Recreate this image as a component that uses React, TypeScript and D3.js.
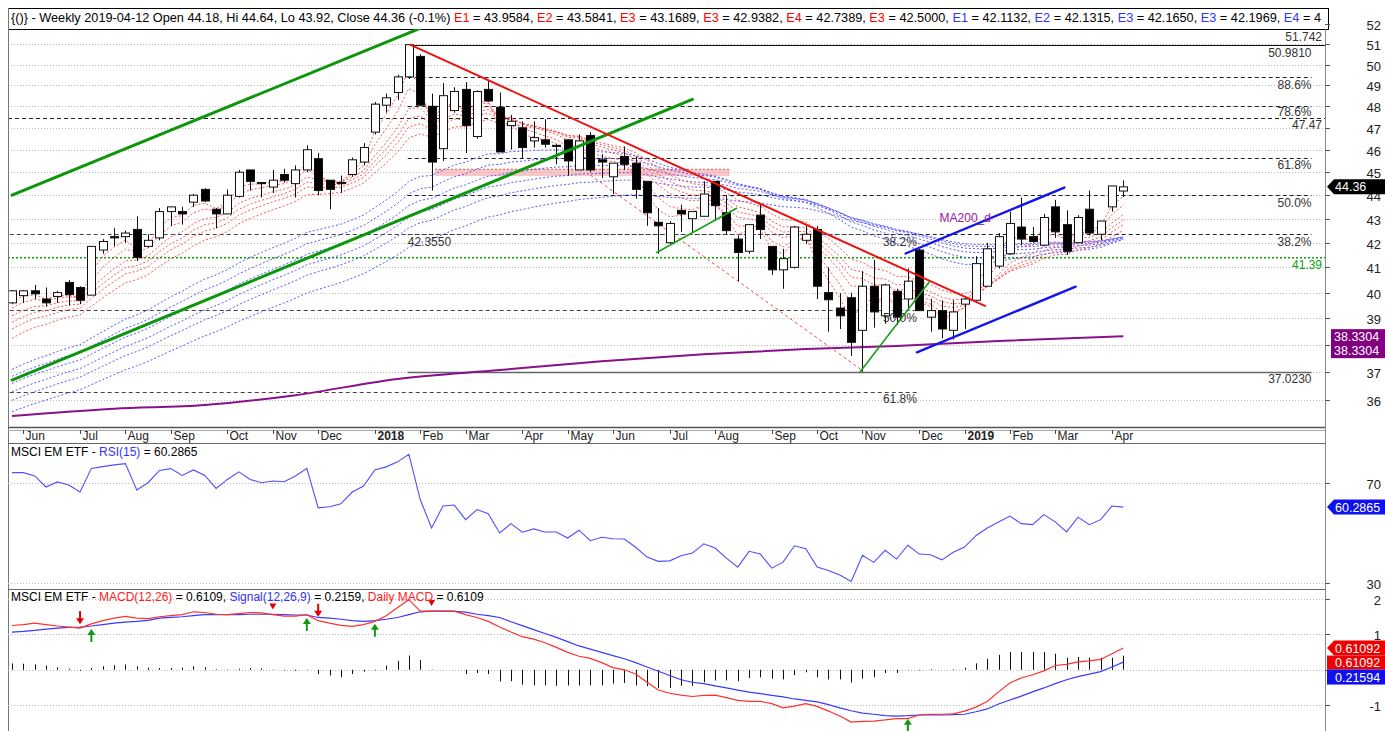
import React, { useEffect, useRef } from "react";
import * as d3 from "d3";

// ---------------- data (weekly bars, first bar = week ending 2017-05-26) ----------------
const startYear = 2017, startMonth = 4, startDay = 26;

const opens = [
  39.6, 39.88, 40.07, 39.75, 39.85, 40.4, 40.2, 39.9, 41.7, 42.25,
  42.25, 42.55, 41.85, 42.2, 43.3, 43.3, 43.7, 44.25, 43.4, 43.2,
  43.95, 45.1, 44.55, 44.35, 44.9, 44.5, 45.1, 45.6, 44.65, 44.55,
  44.9, 45.45, 46.8, 48.05, 48.65, 49.4, 50.4, 48.0, 46.05, 47.8,
  48.8, 46.6, 48.8, 47.95, 47.1, 47.0, 46.4, 46.45, 46.2, 46.45,
  45.1, 46.65, 45.55, 44.8, 45.7, 45.4, 44.6, 42.85, 42.0, 43.35,
  43.0, 43.1, 44.6, 43.25, 42.15, 41.65, 43.15, 41.85, 40.9, 41.0,
  42.1, 42.55, 40.0, 39.4, 39.8, 38.55, 40.25, 39.1, 40.05, 39.75,
  41.7, 39.05, 39.3, 38.55, 39.55, 39.7, 40.25, 41.05, 41.55, 42.65,
  42.25, 41.9, 43.5, 42.75, 42.0, 43.4, 42.35, 43.5, 44.18,
];
const highs = [
  40.1, 40.1, 40.3, 40.2, 40.07, 40.5, 40.25, 41.85, 42.15, 42.6,
  42.5, 43.1, 42.35, 43.45, 43.5, 43.5, 44.05, 44.3, 43.45, 44.25,
  45.1, 45.1, 44.55, 45.1, 45.15, 45.3, 46.2, 45.85, 44.65, 44.85,
  45.65, 46.3, 48.2, 48.6, 49.5, 50.98, 50.5, 48.6, 49.1, 48.9,
  49.15, 48.75, 49.2, 48.65, 47.6, 47.3, 47.3, 47.4, 46.25, 46.45,
  46.7, 46.8, 45.8, 45.4, 46.15, 45.7, 44.6, 43.45, 42.9, 43.6,
  43.3, 44.6, 44.6, 44.0, 42.3, 42.75, 43.6, 41.85, 41.75, 42.7,
  42.7, 42.7, 41.0, 39.98, 40.0, 40.85, 41.3, 40.35, 40.15, 40.95,
  41.75, 39.75, 39.7, 39.7, 39.85, 41.45, 42.0, 42.4, 43.3, 43.9,
  42.65, 43.2, 43.8, 43.35, 43.15, 44.2, 42.9, 44.4, 44.64,
];
const lows = [
  39.55, 39.6, 39.75, 39.45, 39.6, 39.5, 39.55, 39.9, 41.55, 41.85,
  42.0, 41.25, 41.8, 42.1, 42.7, 42.75, 43.5, 43.7, 42.6, 43.2,
  43.9, 44.2, 43.9, 44.1, 44.55, 43.9, 45.0, 44.0, 43.4, 44.1,
  44.8, 45.3, 46.7, 47.7, 48.3, 49.3, 48.0, 44.2, 45.5, 47.7,
  45.85, 46.5, 48.2, 45.9, 46.0, 45.6, 46.1, 46.1, 45.35, 44.85,
  45.1, 45.0, 44.75, 44.05, 45.1, 43.85, 42.7, 41.55, 41.95, 42.45,
  42.45, 43.1, 42.9, 42.35, 40.45, 41.55, 42.15, 40.7, 40.15, 40.95,
  41.95, 39.75, 38.5, 38.6, 37.6, 37.02, 38.65, 38.8, 38.75, 39.35,
  39.3, 38.5, 38.25, 38.2, 38.6, 39.7, 40.25, 40.95, 41.5, 41.9,
  42.0, 41.85, 42.2, 41.5, 42.0, 42.3, 42.1, 43.3, 43.92,
];
const closes = [
  40.07, 40.07, 39.95, 39.6, 40.0, 39.92, 39.7, 41.85, 42.05, 42.2,
  42.4, 41.4, 42.1, 43.3, 43.5, 43.2, 44.0, 43.75, 43.2, 44.0,
  45.0, 44.6, 44.5, 44.65, 44.65, 45.1, 46.0, 44.2, 44.25, 44.5,
  45.55, 46.1, 48.1, 48.4, 49.4, 50.98, 48.05, 45.45, 48.5, 48.7,
  47.1, 48.7, 48.25, 45.9, 47.3, 46.1, 46.55, 46.25, 46.15, 45.5,
  46.4, 45.1, 45.45, 45.4, 45.35, 44.25, 43.25, 42.7, 42.8, 43.2,
  43.3, 44.05, 43.55, 42.5, 41.6, 42.75, 42.55, 40.9, 41.35, 42.65,
  42.35, 40.25, 39.72, 39.1, 38.1, 40.25, 39.25, 40.3, 39.05, 40.45,
  39.3, 39.3, 38.6, 39.25, 39.75, 41.15, 41.75, 42.25, 42.8, 42.15,
  42.05, 43.05, 42.45, 41.65, 43.05, 42.4, 42.9, 44.4, 44.36,
];

const rsi15 = [
  74.0, 74.0, 72.7, 68.3, 70.3, 69.1, 66.3, 75.7, 76.4, 77.1,
  77.6, 67.1, 70.0, 74.9, 75.6, 72.9, 75.1, 72.9, 67.7, 71.3,
  74.3, 71.3, 70.0, 70.7, 70.4, 72.7, 75.7, 60.0, 60.4, 61.6,
  66.3, 68.7, 75.1, 76.3, 78.3, 81.3, 63.3, 52.0, 60.7, 61.1,
  55.3, 59.3, 57.7, 50.0, 53.7, 50.3, 51.6, 50.4, 50.4, 48.0,
  51.1, 46.9, 48.3, 47.7, 47.6, 44.3, 40.4, 38.7, 38.9, 40.9,
  42.0, 45.7, 44.0, 40.0, 36.4, 42.7, 41.6, 36.0, 38.4, 44.9,
  43.7, 36.4, 35.1, 33.3, 30.7, 41.1, 38.3, 43.1, 39.6, 45.1,
  41.6, 41.3, 39.3, 42.3, 44.4, 48.9, 52.0, 54.4, 56.7, 53.7,
  53.3, 57.3, 54.4, 50.4, 56.3, 53.3, 55.3, 60.7, 60.2865,
];

const macdLine = [
  1.245, 1.27, 1.31, 1.27, 1.23, 1.2, 1.17, 1.29, 1.38, 1.45,
  1.5, 1.45, 1.44, 1.49, 1.52, 1.55, 1.63, 1.61, 1.56, 1.55,
  1.58, 1.61, 1.6, 1.55, 1.51, 1.51, 1.55, 1.38, 1.31, 1.25,
  1.22, 1.27, 1.36, 1.52, 1.75, 1.97, 1.65, 1.65, 1.65, 1.65,
  1.55, 1.47, 1.36, 1.2, 1.06, 0.93, 0.86, 0.76, 0.63, 0.49,
  0.38, 0.32, 0.2, 0.06, 0.0, -0.12, -0.35, -0.57, -0.66, -0.71,
  -0.75, -0.72, -0.71, -0.78, -0.86, -0.89, -0.89, -0.95, -1.07, -1.02,
  -0.95, -1.03, -1.16, -1.3, -1.47, -1.45, -1.44, -1.41, -1.37, -1.37,
  -1.27, -1.25, -1.25, -1.24, -1.16, -1.05, -0.89, -0.62, -0.37, -0.23,
  -0.14, -0.03, 0.12, 0.15, 0.22, 0.25, 0.29, 0.45, 0.6109,
];
const signalLine = [
  1.06, 1.08, 1.11, 1.14, 1.17, 1.19, 1.2, 1.23, 1.27, 1.31,
  1.34, 1.36, 1.39, 1.45, 1.47, 1.49, 1.52, 1.55, 1.55, 1.55,
  1.55, 1.56, 1.56, 1.56, 1.55, 1.54, 1.54, 1.47, 1.45, 1.42,
  1.38, 1.36, 1.38, 1.42, 1.47, 1.55, 1.63, 1.65, 1.65, 1.64,
  1.62, 1.56, 1.52, 1.47, 1.35, 1.24, 1.13, 1.02, 0.91, 0.79,
  0.67, 0.58, 0.49, 0.4, 0.31, 0.2, 0.08, -0.04, -0.16, -0.28,
  -0.35, -0.39, -0.45, -0.51, -0.57, -0.63, -0.67, -0.72, -0.76, -0.82,
  -0.86, -0.9, -0.98, -1.07, -1.15, -1.22, -1.25, -1.29, -1.3, -1.29,
  -1.27, -1.26, -1.27, -1.26, -1.25, -1.18, -1.1, -0.96, -0.85, -0.74,
  -0.62, -0.51, -0.39, -0.28, -0.19, -0.12, -0.05, 0.08, 0.2159,
];
const macdHist = [
  0.18, 0.17, 0.15, 0.12, 0.07, 0.03, -0.03, 0.05, 0.1, 0.13,
  0.15, 0.1, 0.06, 0.05, 0.05, 0.06, 0.1, 0.07, 0.02, 0.01,
  0.03, 0.05, 0.04, 0.01, -0.02, -0.03, 0.01, -0.12, -0.16, -0.21,
  -0.12, -0.05, -0.02, 0.12, 0.25, 0.4, 0.27, 0.01, 0.0, 0.0,
  -0.12, -0.09, -0.12, -0.33, -0.32, -0.42, -0.44, -0.44, -0.45, -0.44,
  -0.44, -0.44, -0.44, -0.39, -0.37, -0.44, -0.46, -0.51, -0.51, -0.45,
  -0.45, -0.35, -0.3, -0.3, -0.32, -0.23, -0.21, -0.25, -0.27, -0.15,
  -0.07, -0.21, -0.27, -0.27, -0.36, -0.25, -0.21, -0.09, -0.09, -0.01,
  -0.02, 0.02, 0.0, 0.02, 0.06, 0.18, 0.31, 0.42, 0.5, 0.5,
  0.5, 0.5, 0.45, 0.34, 0.36, 0.34, 0.34, 0.34, 0.395,
];

// daily MA200 read at a few bars
const ma200Idx = [0, 9, 17, 25, 34, 43, 52, 61, 70, 78, 87, 98];
const ma200Val = [35.45, 35.7, 35.83, 36.18, 36.76, 37.08, 37.4, 37.66, 37.85, 37.96, 38.15, 38.3304];

// GMMA ribbons (period, starting value read at first bar)
const redPeriods = [3, 5, 8, 10, 12, 15];
const redSeeds = [39.65, 39.4, 39.1, 38.85, 38.6, 38.25];
const bluePeriods = [30, 35, 40, 45, 50, 60];
const blueSeeds = [37.1, 36.85, 36.6, 36.3, 36.0, 35.6];

const priceTicks = [36, 37, 38, 39, 40, 41, 42, 43, 44, 45, 46, 47, 48, 49, 50, 51, 52];
const priceTickLabels = [36, 37, 39, 40, 41, 42, 43, 44, 45, 46, 47, 48, 49, 50, 51, 52]; // 38 hidden by tag
const rsiTicks = [70, 30];
const macdTicks = [2, 1, -1];
const macdGrid = [2, 1, 0, -1];

// Fibonacci retracement 37.023 -> 50.981
const fibHigh = 50.981, fibLow = 37.023;
const fibRatios = [0.886, 0.786, 0.618, 0.5, 0.382];
const fibLabels = ["88.6%", "78.6%", "61.8%", "50.0%", "38.2%"];
const fibFromIdx = 34.9, fibToIdx = 114.6;
// second fib tool (left part)
const fib2Levels = [42.355, 39.32, 36.3];
const fib2Labels = ["38.2%", "50.0%", "61.8%"];
const fib2FromIdx = -0.2, fib2ToIdx = 79.8;

// drawn trend lines: [idx1, price1, idx2, price2]
const greenThick = [[0, 44.0, 37.5, 52.16], [0, 36.72, 60, 48.33]];
const redTrend = [[35.1, 50.98, 85.8, 39.48]];
const greenThin = [[56.85, 41.6, 63.9, 43.44], [74.8, 37.02, 80.9, 40.43]];
const blueChannel = [[78.8, 41.56, 92.8, 44.33], [79.8, 37.73, 93.8, 40.23]];
const redFan = [[51, 44.88, 75, 37.06]];
const pinkZone = [37.3, 63.3, 44.83, 45.13];

const macdDownArrows = [6, 27];
const macdSmallTri = [23, 37];
const macdUpArrows = [7, 26, 32, 79];

const headerParts: [string, string][] = [
  ["{()} - Weekly 2019-04-12 Open 44.18, Hi 44.64, Lo 43.92, Close 44.36 (-0.1%) ", "#000"],
  ["E1", "#ff0000"], [" = 43.9584, ", "#000"],
  ["E2", "#ff0000"], [" = 43.5841, ", "#000"],
  ["E3", "#ff0000"], [" = 43.1689, ", "#000"],
  ["E3", "#ff0000"], [" = 42.9382, ", "#000"],
  ["E4", "#ff0000"], [" = 42.7389, ", "#000"],
  ["E3", "#ff0000"], [" = 42.5000, ", "#000"],
  ["E1", "#3333ff"], [" = 42.1132, ", "#000"],
  ["E2", "#3333ff"], [" = 42.1315, ", "#000"],
  ["E3", "#3333ff"], [" = 42.1650, ", "#000"],
  ["E3", "#3333ff"], [" = 42.1969, ", "#000"],
  ["E4", "#3333ff"], [" = 4", "#000"],
];

const FONT = "'Liberation Sans', Arial, Helvetica, sans-serif";

function ema(vals: number[], period: number, seed: number) {
  const a = 2 / (period + 1);
  let e = seed;
  return vals.map((v, i) => {
    if (i > 0) e = e + a * (v - e);
    return e;
  });
}

export default function App() {
  const ref = useRef<SVGSVGElement>(null);

  useEffect(() => {
    const svg = d3.select(ref.current);
    svg.selectAll("*").remove();
    svg.attr("font-family", FONT).attr("font-size", 12);

    const L = 8, R = 1325, TOP = 29, MB = 427, AXB = 443, RB = 589, BOT = 731;
    const n = closes.length;

    const x = d3.scaleLinear().domain([0, 98]).range([12, 1123.3]);
    const y = d3.scaleLog().domain([35.07, 51.77]).range([MB, TOP]);
    const yR = d3.scaleLinear().domain([27.7, 85.8]).range([RB, AXB]);
    const yM = d3.scaleLinear().domain([-1.72, 2.27]).range([BOT, RB]);

    svg.append("rect").attr("width", 1385).attr("height", 731).attr("fill", "#fff");

    const defs = svg.append("defs");
    defs.append("clipPath").attr("id", "clipMain").append("rect")
      .attr("x", L).attr("y", TOP).attr("width", R - L).attr("height", MB - TOP);
    defs.append("clipPath").attr("id", "clipRsi").append("rect")
      .attr("x", L).attr("y", AXB).attr("width", R - L).attr("height", RB - AXB);
    defs.append("clipPath").attr("id", "clipMacd").append("rect")
      .attr("x", L).attr("y", RB).attr("width", R - L).attr("height", BOT - RB);

    // ---------------- header ----------------
    svg.append("rect").attr("x", L + 0.5).attr("y", 8.5).attr("width", 1320).attr("height", TOP - 8)
      .attr("fill", "#fff").attr("stroke", "#000");
    const ht = svg.append("text").attr("x", 11).attr("y", 22).attr("font-size", 12)
      .attr("textLength", 1310).attr("lengthAdjust", "spacingAndGlyphs").style("white-space", "pre");
    headerParts.forEach(([t, c]) => ht.append("tspan").attr("fill", c).text(t));

    // ---------------- main panel ----------------
    const main = svg.append("g").attr("clip-path", "url(#clipMain)");

    main.selectAll("line.grid").data(priceTicks).join("line")
      .attr("x1", L).attr("x2", R).attr("y1", (d) => Math.round(y(d)) + 0.5).attr("y2", (d) => Math.round(y(d)) + 0.5)
      .attr("stroke", "#bdbdbd").attr("stroke-dasharray", "1,2");

    // pink zone
    main.append("rect")
      .attr("x", x(pinkZone[0])).attr("width", x(pinkZone[1]) - x(pinkZone[0]))
      .attr("y", y(pinkZone[3])).attr("height", y(pinkZone[2]) - y(pinkZone[3]))
      .attr("fill", "#f3a3a3").attr("opacity", 0.6);
    main.append("line").attr("x1", x(pinkZone[0])).attr("x2", x(pinkZone[1]))
      .attr("y1", y(pinkZone[3])).attr("y2", y(pinkZone[3]))
      .attr("stroke", "#e05050").attr("stroke-dasharray", "2,2");

    // fib levels (upper tool)
    const fibVals = fibRatios.map((r) => fibLow + r * (fibHigh - fibLow));
    main.selectAll("line.fib").data(fibVals).join("line")
      .attr("x1", x(fibFromIdx)).attr("x2", x(fibToIdx))
      .attr("y1", (d) => Math.round(y(d)) + 0.5).attr("y2", (d) => Math.round(y(d)) + 0.5)
      .attr("stroke", "#222").attr("stroke-dasharray", "4,3");
    // fib levels (lower tool)
    main.selectAll("line.fib2").data(fib2Levels).join("line")
      .attr("x1", x(fib2FromIdx)).attr("x2", x(fib2ToIdx))
      .attr("y1", (d) => Math.round(y(d)) + 0.5).attr("y2", (d) => Math.round(y(d)) + 0.5)
      .attr("stroke", "#444").attr("stroke-dasharray", "4,3");
    // 47.47 horizontal line
    main.append("line").attr("x1", L).attr("x2", R)
      .attr("y1", Math.round(y(47.47)) + 0.5).attr("y2", Math.round(y(47.47)) + 0.5)
      .attr("stroke", "#222").attr("stroke-dasharray", "4,3");
    // 50.981 solid & 37.023 solid
    main.append("line").attr("x1", x(fibFromIdx)).attr("x2", R)
      .attr("y1", Math.round(y(fibHigh)) + 0.5).attr("y2", Math.round(y(fibHigh)) + 0.5)
      .attr("stroke", "#111");
    main.append("line").attr("x1", x(fibFromIdx)).attr("x2", x(fibToIdx))
      .attr("y1", Math.round(y(fibLow)) + 0.5).attr("y2", Math.round(y(fibLow)) + 0.5)
      .attr("stroke", "#666").attr("stroke-width", 1.5);
    // 41.39 green dotted
    main.append("line").attr("x1", L).attr("x2", R)
      .attr("y1", y(41.39)).attr("y2", y(41.39))
      .attr("stroke", "#10a010").attr("stroke-width", 1.5).attr("stroke-dasharray", "2,2");

    // ribbons
    const lineP = d3.line<number>().x((_, i) => x(i)).y((d) => y(d));
    bluePeriods.forEach((p, j) => {
      main.append("path").attr("d", lineP(ema(closes, p, blueSeeds[j])))
        .attr("fill", "none").attr("stroke", "#3d3dff").attr("stroke-width", 1)
        .attr("stroke-dasharray", "2,2").attr("opacity", 0.85);
    });
    redPeriods.forEach((p, j) => {
      main.append("path").attr("d", lineP(ema(closes, p, redSeeds[j])))
        .attr("fill", "none").attr("stroke", "#ff3b3b").attr("stroke-width", 1)
        .attr("stroke-dasharray", "2,2").attr("opacity", 0.85);
    });

    // MA200 daily
    const maPts = ma200Idx.map((k, i) => [x(k), y(ma200Val[i])] as [number, number]);
    main.append("path").attr("d", d3.line().curve(d3.curveMonotoneX)(maPts))
      .attr("fill", "none").attr("stroke", "#8b108b").attr("stroke-width", 2);

    // red fan line
    redFan.forEach(([k1, p1, k2, p2]) => {
      main.append("line").attr("x1", x(k1)).attr("y1", y(p1)).attr("x2", x(k2)).attr("y2", y(p2))
        .attr("stroke", "#ff4040").attr("stroke-dasharray", "3,3");
    });

    // candles
    const idx = d3.range(n);
    main.selectAll("line.wick").data(idx).join("line")
      .attr("x1", (i) => Math.round(x(i)) + 0.5).attr("x2", (i) => Math.round(x(i)) + 0.5)
      .attr("y1", (i) => y(highs[i])).attr("y2", (i) => y(lows[i]))
      .attr("stroke", "#111");
    main.selectAll("rect.body").data(idx).join("rect")
      .attr("x", (i) => Math.round(x(i)) - 3.5).attr("width", 8)
      .attr("y", (i) => y(Math.max(opens[i], closes[i])))
      .attr("height", (i) => Math.max(1, Math.abs(y(opens[i]) - y(closes[i]))))
      .attr("fill", (i) => (closes[i] >= opens[i] ? "#fff" : "#000"))
      .attr("stroke", "#111");

    // trend lines
    const drawTL = (arr: number[][], color: string, w: number) =>
      arr.forEach(([k1, p1, k2, p2]) => {
        main.append("line").attr("x1", x(k1)).attr("y1", y(p1)).attr("x2", x(k2)).attr("y2", y(p2))
          .attr("stroke", color).attr("stroke-width", w).attr("stroke-linecap", "round");
      });
    drawTL(greenThick, "#0b960b", 3);
    drawTL(redTrend, "#ee1111", 2);
    drawTL(greenThin, "#16a316", 1.6);
    drawTL(blueChannel, "#1414ee", 2.4);

    // labels in main panel
    const lab = svg.append("g").attr("font-size", 12).attr("fill", "#333");
    fibVals.forEach((v, i) => {
      const off = fibLabels[i] === "78.6%" ? 9.5 : 11.5;
      lab.append("text").attr("x", x(fibToIdx)).attr("y", y(v) + off).attr("text-anchor", "end").text(fibLabels[i]);
    });
    fib2Levels.forEach((v, i) => {
      lab.append("text").attr("x", x(fib2ToIdx)).attr("y", y(v) + 11.5).attr("text-anchor", "end").text(fib2Labels[i]);
    });
    lab.append("text").attr("x", x(fibToIdx)).attr("y", y(fibHigh) + 12).attr("text-anchor", "end").text("50.9810");
    lab.append("text").attr("x", x(fibToIdx)).attr("y", y(fibLow) + 11.5).attr("text-anchor", "end").text("37.0230");
    lab.append("text").attr("x", R - 3).attr("y", y(51.742) + 11.5).attr("text-anchor", "end").text("51.742");
    lab.append("text").attr("x", R - 3).attr("y", y(47.47) + 11).attr("text-anchor", "end").text("47.47");
    lab.append("text").attr("x", R - 3).attr("y", y(41.39) + 11).attr("text-anchor", "end").attr("fill", "#10a010").text("41.39");
    lab.append("text").attr("x", x(fibFromIdx)).attr("y", y(42.355) + 12).text("42.3550");
    lab.append("text").attr("x", x(81.8)).attr("y", y(42.85)).attr("fill", "#9a209a").text("MA200_d");

    // ---------------- frames / axis ----------------
    const fr = svg.append("g").attr("stroke", "#777").attr("fill", "none");
    fr.append("line").attr("x1", L + 0.5).attr("x2", L + 0.5).attr("y1", 8).attr("y2", BOT);
    fr.append("line").attr("x1", R + 0.5).attr("x2", R + 0.5).attr("y1", TOP).attr("y2", BOT).attr("stroke", "#888");
    fr.append("line").attr("x1", L).attr("x2", R).attr("y1", MB + 0.5).attr("y2", MB + 0.5).attr("stroke", "#555").attr("stroke-width", 1.5);
    fr.append("line").attr("x1", L).attr("x2", R).attr("y1", MB + 3.5).attr("y2", MB + 3.5).attr("stroke", "#aaa");
    fr.append("line").attr("x1", L).attr("x2", R).attr("y1", AXB + 0.5).attr("y2", AXB + 0.5).attr("stroke", "#666");
    fr.append("line").attr("x1", L).attr("x2", R).attr("y1", RB + 0.5).attr("y2", RB + 0.5).attr("stroke", "#666");

    // price axis ticks and labels
    const ax = svg.append("g").attr("font-size", 13).attr("fill", "#222");
    priceTicks.forEach((p) => {
      const yy = Math.round(y(p)) + 0.5;
      ax.append("line").attr("x1", R).attr("x2", R + 5).attr("y1", yy).attr("y2", yy).attr("stroke", "#555");
    });
    priceTickLabels.forEach((p) => {
      const yy = Math.round(y(p)) + 0.5;
      ax.append("text").attr("x", 1381).attr("y", yy + 5).attr("text-anchor", "end").text(String(p));
    });

    // month axis
    const dates = closes.map((_, i) => new Date(startYear, startMonth, startDay + 7 * i));
    const fmt = d3.timeFormat("%b");
    const mt = svg.append("g").attr("font-size", 12).attr("fill", "#222");
    for (let i = 1; i < n; i++) {
      if (dates[i].getMonth() !== dates[i - 1].getMonth()) {
        const xx = Math.round(x(i)) + 0.5;
        const isYear = dates[i].getMonth() === 0;
        mt.append("line").attr("x1", xx).attr("x2", xx).attr("y1", MB + 3).attr("y2", MB + 7).attr("stroke", "#444");
        mt.append("text").attr("x", xx + 2).attr("y", 440)
          .attr("font-weight", isYear ? "bold" : "normal")
          .text(isYear ? String(dates[i].getFullYear()) : fmt(dates[i]));
      }
    }

    // price tags
    const tag = (yy: number, text: string, bg: string, arrow: boolean, x0 = 1327) => {
      const g = svg.append("g");
      const xs = arrow ? x0 + 7 : x0;
      const pth = arrow
        ? `M${x0},${yy} L${xs},${yy - 7.5} L1385,${yy - 7.5} L1385,${yy + 7.5} L${xs},${yy + 7.5} Z`
        : `M${x0},${yy - 7.5} L1385,${yy - 7.5} L1385,${yy + 7.5} L${x0},${yy + 7.5} Z`;
      g.append("path").attr("d", pth).attr("fill", bg);
      g.append("text").attr("x", xs + 1).attr("y", yy + 4.5).attr("fill", "#fff").attr("font-size", 12.5).text(text);
    };
    tag(y(44.36), "44.36", "#000", true);
    const ym = y(ma200Val[ma200Val.length - 1]);
    svg.append("rect").attr("x", 1331).attr("y", ym - 7).attr("width", 54).attr("height", 29).attr("fill", "#800080");
    svg.append("text").attr("x", 1334).attr("y", ym + 5).attr("fill", "#fff").attr("font-size", 12.5).text("38.3304");
    svg.append("text").attr("x", 1334).attr("y", ym + 19).attr("fill", "#fff").attr("font-size", 12.5).text("38.3304");

    // ---------------- RSI panel ----------------
    const rsiG = svg.append("g");
    rsiG.selectAll("line.g").data(rsiTicks).join("line")
      .attr("x1", L).attr("x2", R).attr("y1", (d) => Math.round(yR(d)) + 0.5).attr("y2", (d) => Math.round(yR(d)) + 0.5)
      .attr("stroke", "#bdbdbd").attr("stroke-dasharray", "1,2");
    rsiG.append("path").attr("clip-path", "url(#clipRsi)")
      .attr("d", d3.line<number>().x((_, i) => x(i)).y((d) => yR(d))(rsi15))
      .attr("fill", "none").attr("stroke", "#4f4fff").attr("stroke-width", 1.1);
    const rt = rsiG.append("text").attr("x", 11).attr("y", 456).attr("font-size", 12).style("white-space", "pre");
    rt.append("tspan").attr("fill", "#000").text("MSCI EM ETF - ");
    rt.append("tspan").attr("fill", "#3333ff").text("RSI(15)");
    rt.append("tspan").attr("fill", "#000").text(" = 60.2865");
    rsiTicks.forEach((v) => {
      const yy = Math.round(yR(v)) + 0.5;
      rsiG.append("line").attr("x1", R).attr("x2", R + 5).attr("y1", yy).attr("y2", yy).attr("stroke", "#555");
      rsiG.append("text").attr("x", 1381).attr("y", yy + 5).attr("text-anchor", "end").attr("font-size", 13).attr("fill", "#222").text(String(v));
    });
    tag(yR(rsi15[rsi15.length - 1]), "60.2865", "#1010ee", true);

    // ---------------- MACD panel ----------------
    const mg = svg.append("g");
    mg.selectAll("line.g").data(macdGrid).join("line")
      .attr("x1", L).attr("x2", R).attr("y1", (d) => Math.round(yM(d)) + 0.5).attr("y2", (d) => Math.round(yM(d)) + 0.5)
      .attr("stroke", "#bdbdbd").attr("stroke-dasharray", "1,2");
    const mc = mg.append("g").attr("clip-path", "url(#clipMacd)");
    mc.selectAll("line.h").data(idx).join("line")
      .attr("x1", (i) => Math.round(x(i)) + 0.5).attr("x2", (i) => Math.round(x(i)) + 0.5)
      .attr("y1", yM(0)).attr("y2", (i) => yM(macdHist[i]))
      .attr("stroke", "#111");
    const lm = d3.line<number>().x((_, i) => x(i)).y((d) => yM(d));
    mc.append("path").attr("d", lm(signalLine)).attr("fill", "none").attr("stroke", "#3a3aff").attr("stroke-width", 1.2);
    mc.append("path").attr("d", lm(macdLine)).attr("fill", "none").attr("stroke", "#ff3030").attr("stroke-width", 1.2);

    macdDownArrows.forEach((k) => {
      const xx = x(k), tip = yM(macdLine[k]) - 4;
      mc.append("rect").attr("x", xx - 1).attr("y", tip - 13).attr("width", 2).attr("height", 8).attr("fill", "#e00000");
      mc.append("path").attr("d", `M${xx - 4},${tip - 6} L${xx + 4},${tip - 6} L${xx},${tip} Z`).attr("fill", "#e00000");
    });
    macdSmallTri.forEach((k) => {
      const xx = x(k), tip = yM(macdLine[k]) - 5;
      mc.append("path").attr("d", `M${xx - 3.5},${tip - 6} L${xx + 3.5},${tip - 6} L${xx},${tip} Z`).attr("fill", "#e00000");
    });
    macdUpArrows.forEach((k) => {
      const xx = x(k), tip = yM(signalLine[k]) + 3;
      mc.append("path").attr("d", `M${xx - 4},${tip + 6} L${xx + 4},${tip + 6} L${xx},${tip} Z`).attr("fill", "#119911");
      mc.append("rect").attr("x", xx - 1).attr("y", tip + 5).attr("width", 2).attr("height", 8).attr("fill", "#119911");
    });

    const mtx = mg.append("text").attr("x", 11).attr("y", 601).attr("font-size", 12).style("white-space", "pre");
    mtx.append("tspan").attr("fill", "#000").text("MSCI EM ETF - ");
    mtx.append("tspan").attr("fill", "#ff2020").text("MACD(12,26)");
    mtx.append("tspan").attr("fill", "#000").text(" = 0.6109, ");
    mtx.append("tspan").attr("fill", "#3333ff").text("Signal(12,26,9)");
    mtx.append("tspan").attr("fill", "#000").text(" = 0.2159, ");
    mtx.append("tspan").attr("fill", "#ff2020").text("Daily MACD");
    mtx.append("tspan").attr("fill", "#000").text(" = 0.6109");

    macdGrid.forEach((v) => {
      const yy = Math.round(yM(v)) + 0.5;
      mg.append("line").attr("x1", R).attr("x2", R + 5).attr("y1", yy).attr("y2", yy).attr("stroke", "#555");
    });
    macdTicks.forEach((v) => {
      const yy = Math.round(yM(v)) + 0.5;
      mg.append("text").attr("x", 1381).attr("y", yy + 5).attr("text-anchor", "end").attr("font-size", 13).attr("fill", "#222").text(String(v));
    });
    const ymacd = yM(macdLine[n - 1]);
    tag(ymacd, "0.61092", "#ee0000", true);
    svg.append("rect").attr("x", 1327).attr("y", ymacd + 7.5).attr("width", 58).attr("height", 14).attr("fill", "#ee0000");
    svg.append("text").attr("x", 1335).attr("y", ymacd + 19).attr("fill", "#fff").attr("font-size", 12.5).text("0.61092");
    svg.append("rect").attr("x", 1327).attr("y", ymacd + 21.5).attr("width", 58).attr("height", 15).attr("fill", "#1010ee");
    svg.append("text").attr("x", 1335).attr("y", ymacd + 33.5).attr("fill", "#fff").attr("font-size", 12.5).text("0.21594");
  }, []);

  return (
    <svg
      ref={ref}
      width={1385}
      height={731}
      style={{ position: "absolute", left: 0, top: 0, display: "block" }}
    />
  );
}
